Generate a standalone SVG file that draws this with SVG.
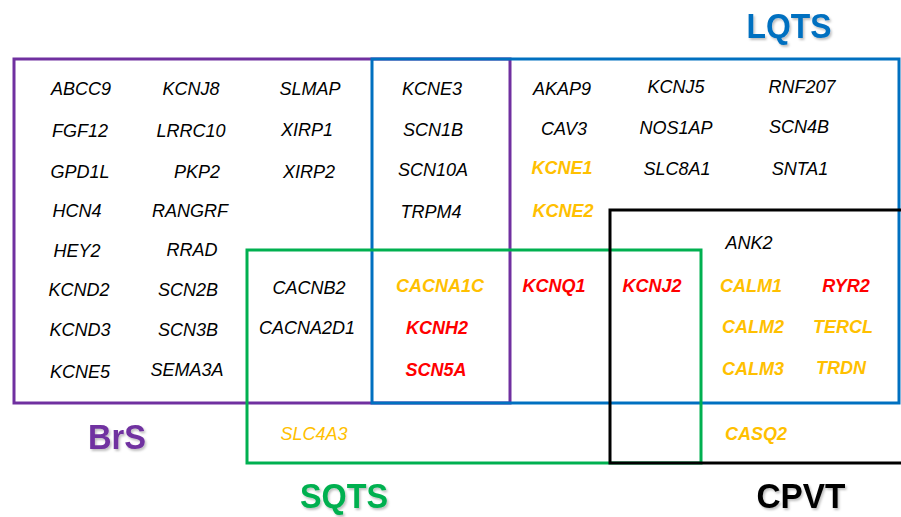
<svg xmlns="http://www.w3.org/2000/svg" width="901" height="517" viewBox="0 0 901 517">
<defs>
<filter id="sh" x="-10%" y="-10%" width="130%" height="140%">
<feDropShadow dx="1.5" dy="2" stdDeviation="1" flood-color="#000" flood-opacity="0.25"/>
</filter>
</defs>
<style>
.box{fill:none;stroke-width:3}
.g{font-family:"Liberation Sans",Arial,sans-serif;font-style:italic;font-size:18px;text-anchor:middle;fill:#000}
.o{fill:#FFC000;font-weight:bold}
.r{fill:#FF0000;font-weight:bold}
.on{fill:#FFC000}
.t{font-family:"Liberation Sans",Arial,sans-serif;font-weight:bold;font-size:35px;text-anchor:middle;filter:url(#sh)}
</style>
<rect width="901" height="517" fill="#fff"/>
<g id="connectors">
<rect id="brs-box" class="box" x="14" y="59" width="496" height="344" stroke="#7030A0"/>
<rect id="lqts-box" class="box" x="372" y="59" width="527" height="344" stroke="#0070C0"/>
<rect id="sqts-box" class="box" x="247" y="250" width="454" height="213" stroke="#00B050"/>
<rect id="cpvt-box" class="box" x="610" y="210" width="295" height="253" stroke="#000"/>
</g>
<g id="titles">
<text class="t" x="789" y="38" fill="#0070C0" textLength="85" lengthAdjust="spacingAndGlyphs">LQTS</text>
<text class="t" x="117" y="449" fill="#7030A0" textLength="58" lengthAdjust="spacingAndGlyphs">BrS</text>
<text class="t" x="344" y="508" fill="#00B050" textLength="88" lengthAdjust="spacingAndGlyphs">SQTS</text>
<text class="t" x="801" y="508" fill="#000" textLength="89" lengthAdjust="spacingAndGlyphs">CPVT</text>
</g>
<g id="brs-genes">
<text class="g" x="81" y="95">ABCC9</text>
<text class="g" x="80" y="137">FGF12</text>
<text class="g" x="80" y="178">GPD1L</text>
<text class="g" x="77" y="217">HCN4</text>
<text class="g" x="77" y="257">HEY2</text>
<text class="g" x="79" y="296">KCND2</text>
<text class="g" x="80" y="336">KCND3</text>
<text class="g" x="80" y="378">KCNE5</text>
<text class="g" x="191" y="95">KCNJ8</text>
<text class="g" x="191" y="137">LRRC10</text>
<text class="g" x="197" y="178">PKP2</text>
<text class="g" x="190" y="217">RANGRF</text>
<text class="g" x="192" y="256">RRAD</text>
<text class="g" x="188" y="296">SCN2B</text>
<text class="g" x="188" y="336">SCN3B</text>
<text class="g" x="187" y="376">SEMA3A</text>
<text class="g" x="310" y="95">SLMAP</text>
<text class="g" x="307" y="136">XIRP1</text>
<text class="g" x="309" y="178">XIRP2</text>
</g>
<g id="brs-sqts-genes">
<text class="g" x="309" y="294">CACNB2</text>
<text class="g" x="307" y="334">CACNA2D1</text>
</g>
<g id="brs-lqts-genes">
<text class="g" x="432" y="95">KCNE3</text>
<text class="g" x="433" y="136">SCN1B</text>
<text class="g" x="433" y="176">SCN10A</text>
<text class="g" x="431" y="218">TRPM4</text>
</g>
<g id="brs-lqts-sqts-genes">
<text class="g o" x="440" y="292">CACNA1C</text>
<text class="g r" x="437" y="334">KCNH2</text>
<text class="g r" x="436" y="376">SCN5A</text>
</g>
<g id="lqts-genes">
<text class="g" x="562" y="95">AKAP9</text>
<text class="g" x="564" y="135">CAV3</text>
<text class="g o" x="562" y="174">KCNE1</text>
<text class="g o" x="563" y="217">KCNE2</text>
<text class="g" x="676" y="93">KCNJ5</text>
<text class="g" x="676" y="134">NOS1AP</text>
<text class="g" x="677" y="175">SLC8A1</text>
<text class="g" x="802" y="93">RNF207</text>
<text class="g" x="799" y="133">SCN4B</text>
<text class="g" x="800" y="175">SNTA1</text>
</g>
<g id="lqts-sqts-genes">
<text class="g r" x="554" y="292">KCNQ1</text>
</g>
<g id="lqts-sqts-cpvt-genes">
<text class="g r" x="652" y="292">KCNJ2</text>
</g>
<g id="lqts-cpvt-genes">
<text class="g" x="749" y="249">ANK2</text>
<text class="g o" x="751" y="292">CALM1</text>
<text class="g o" x="753" y="333">CALM2</text>
<text class="g o" x="753" y="375">CALM3</text>
<text class="g r" x="846" y="292">RYR2</text>
<text class="g o" x="843" y="333">TERCL</text>
<text class="g o" x="841" y="374">TRDN</text>
</g>
<g id="sqts-genes">
<text class="g on" x="314" y="440">SLC4A3</text>
</g>
<g id="cpvt-genes">
<text class="g o" x="756" y="440">CASQ2</text>
</g>
</svg>
